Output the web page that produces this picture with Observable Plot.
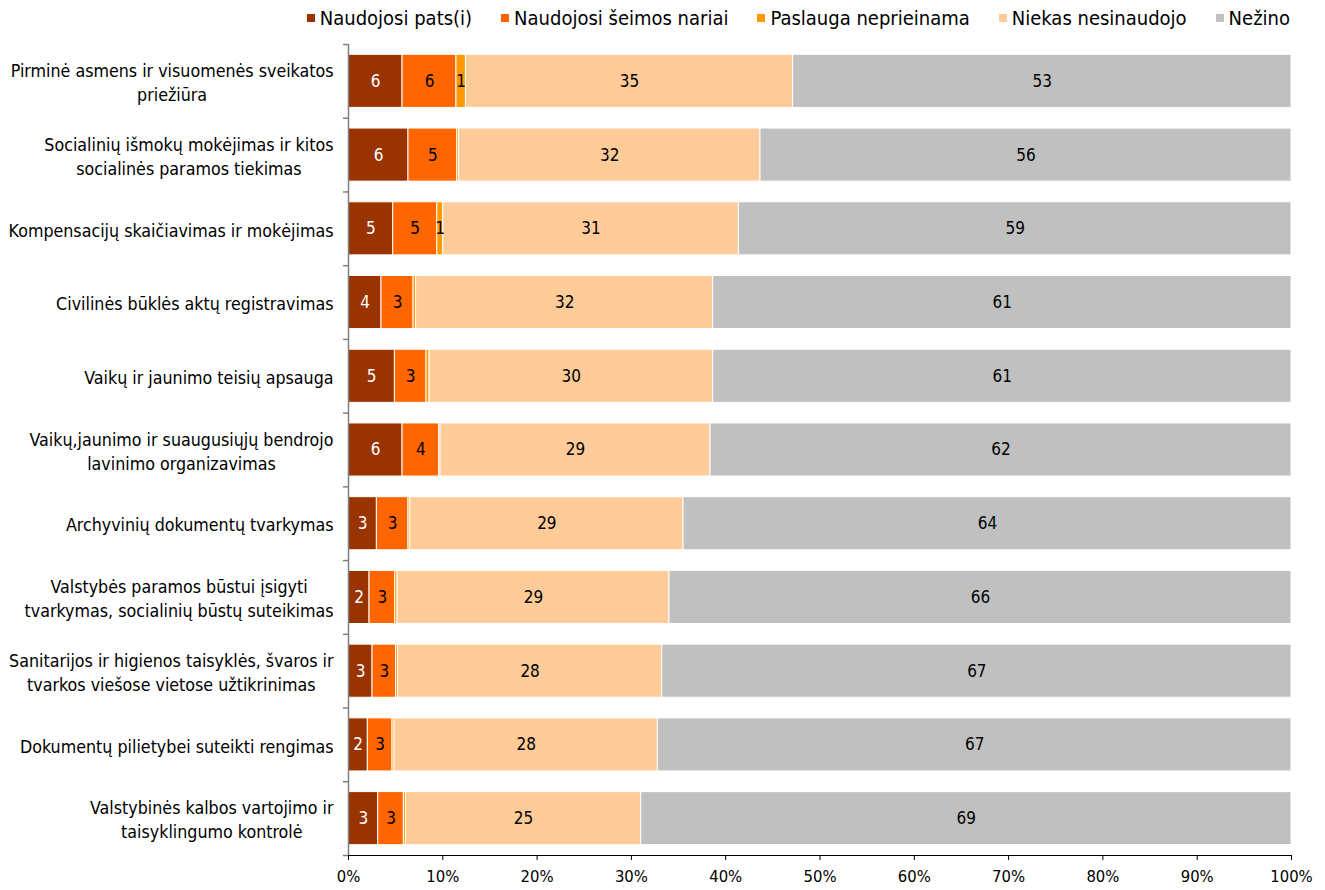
<!DOCTYPE html>
<html><head><meta charset="utf-8">
<script src="https://cdn.jsdelivr.net/npm/d3@7"></script>
<script src="https://cdn.jsdelivr.net/npm/@observablehq/plot@0.6"></script>
<style>
body{margin:0;background:#fff;font-family:"DejaVu Sans Condensed","DejaVu Sans",sans-serif;}
#legend{height:36px;display:flex;justify-content:flex-end;align-items:center;padding-right:35px;gap:29px;font-size:20px;color:#000;box-sizing:border-box;}
#legend .item{display:flex;align-items:center;white-space:nowrap;}
#legend .sw{width:8px;height:8px;margin-right:5px;display:inline-block;}
#chart svg{display:block;}
</style></head><body>
<div id="legend"></div>
<div id="chart"></div>
<script>
const categories = [
  "Pirminė asmens ir visuomenės sveikatos\npriežiūra",
  "Socialinių išmokų mokėjimas ir kitos\nsocialinės paramos tiekimas",
  "Kompensacijų skaičiavimas ir mokėjimas",
  "Civilinės būklės aktų registravimas",
  "Vaikų ir jaunimo teisių apsauga",
  "Vaikų,jaunimo ir suaugusiųjų bendrojo\nlavinimo organizavimas",
  "Archyvinių dokumentų tvarkymas",
  "Valstybės paramos būstui įsigyti\ntvarkymas, socialinių būstų suteikimas",
  "Sanitarijos ir higienos taisyklės, švaros ir\ntvarkos viešose vietose užtikrinimas",
  "Dokumentų pilietybei suteikti rengimas",
  "Valstybinės kalbos vartojimo ir\ntaisyklingumo kontrolė"
];
const seriesNames = ["Naudojosi pats(i)", "Naudojosi šeimos nariai", "Paslauga neprieinama", "Niekas nesinaudojo", "Nežino"];
const seriesColors = ["#993300", "#FF6600", "#FF9900", "#FFCC99", "#C0C0C0"];
const pats        = [5.73, 6.36, 4.74, 3.5, 4.92, 5.73, 3.01, 2.23, 2.55, 2.05, 3.15];
const seimosNariai= [5.72, 5.17, 4.67, 3.4, 3.35, 3.89, 3.35, 2.72, 2.5, 2.62, 2.72];
const neprieinama = [1.0, 0.21, 0.63, 0.27, 0.32, 0.14, 0.18, 0.25, 0.2, 0.21, 0.22];
const niekas      = [34.7, 31.95, 31.36, 31.5, 30.08, 28.63, 28.99, 28.84, 28.02, 27.93, 24.95];
const nezino      = [52.85, 56.31, 58.6, 61.33, 61.33, 61.61, 64.47, 65.96, 66.73, 67.19, 68.96];
const xTicks = [0, 10, 20, 30, 40, 50, 60, 70, 80, 90, 100];

const seriesValues = [pats, seimosNariai, neprieinama, niekas, nezino];
const data = categories.flatMap((c, i) => seriesNames.map((s, j) => ({cat: c, series: s, value: seriesValues[j][i]})));

// legend
const leg = document.getElementById("legend");
seriesNames.forEach((s, j) => {
  const it = document.createElement("div"); it.className = "item";
  const sw = document.createElement("span"); sw.className = "sw"; sw.style.background = seriesColors[j];
  it.appendChild(sw); it.appendChild(document.createTextNode(s));
  leg.appendChild(it);
});

const W = 1325, H = 854, mt = 8, mb = 35, ml = 348, mr = 34;
const font = '"DejaVu Sans Condensed","DejaVu Sans",sans-serif';
const catFs = 17.7;
const unit = (W - ml - mr) / 100;
const step = (H - mt - mb) / categories.length;

const ctx = document.createElement("canvas").getContext("2d");
ctx.font = `${catFs}px ${font}`;
const labelX = new Map(categories.map(c => {
  const w = d3.max(c.split("\n"), l => ctx.measureText(l).width);
  const centerPx = -15 - w / 2;
  return [c, centerPx / unit];
}));

const stackOpts = {x: "value", y: "cat", z: "series", order: seriesNames};
const lbl = d => { const r = Math.round(d.value); return r >= 1 ? String(r) : null; };

const chart = Plot.plot({
  width: W, height: H,
  marginTop: mt, marginBottom: mb, marginLeft: ml, marginRight: mr,
  style: {fontFamily: font, fontSize: "16px", color: "#000", background: "#fff"},
  x: {domain: [0, 100], axis: null},
  y: {domain: categories, paddingInner: 0.28, paddingOuter: 0.14, round: false, axis: null},
  color: {domain: seriesNames, range: seriesColors},
  marks: [
    Plot.barX(data, Plot.stackX({...stackOpts, fill: "series", stroke: "white", strokeWidth: 1})),
    Plot.text(data, Plot.stackX({...stackOpts, text: d => d.series === seriesNames[0] ? lbl(d) : null, fill: "white", fontSize: 17})),
    Plot.text(data, Plot.stackX({...stackOpts, text: d => d.series !== seriesNames[0] ? lbl(d) : null, fill: "black", fontSize: 17})),
    Plot.ruleX([0], {stroke: "#808080", strokeWidth: 1.5}),
    Plot.ruleY(categories, {y: d => d, x1: () => -5 / unit, x2: () => 0, dy: step / 2, stroke: "#808080", strokeWidth: 1.5}),
    Plot.ruleY(categories.slice(0, 1), {y: d => d, x1: () => -5 / unit, x2: () => 0, dy: -step / 2, stroke: "#808080", strokeWidth: 1.5}),
    Plot.frame({anchor: "bottom", stroke: "black"}),
    Plot.axisX({ticks: xTicks, tickFormat: d => d + "%", tickSize: 5, tickPadding: 10, fontSize: 16.5, stroke: "black", label: null}),
    Plot.text(categories, {x: d => labelX.get(d), y: d => d, text: d => d, textAnchor: "middle", lineAnchor: "middle", lineHeight: 1.36, fontSize: catFs, fill: "black"})
  ]
});
document.getElementById("chart").appendChild(chart);
</script>
</body></html>
